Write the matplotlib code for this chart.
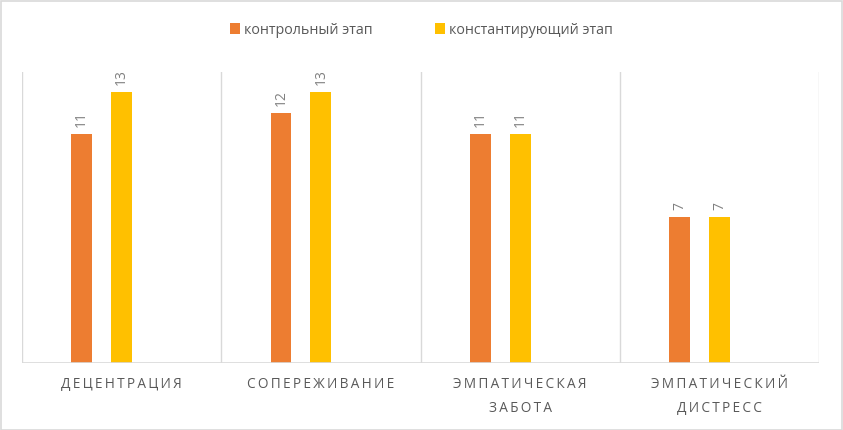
import matplotlib
matplotlib.use("Agg")
from matplotlib import pyplot as plt
import matplotlib.patches as mpatches
import numpy as np

# data
categories = ["ДЕЦЕНТРАЦИЯ", "СОПЕРЕЖИВАНИЕ", "ЭМПАТИЧЕСКАЯ\nЗАБОТА", "ЭМПАТИЧЕСКИЙ\nДИСТРЕСС"]
control = [11, 12, 11, 7]
constat = [13, 13, 11, 7]
series_names = ["контрольный этап", "константирующий этап"]

fam = ["Open Sans", "DejaVu Sans"]
plt.rcParams["font.family"] = fam


def spaced(s):
    # fake the letter spacing of the category labels
    return "\n".join("\u2009".join(list(line)) for line in s.split("\n"))


W, H = 843, 430
fig = plt.figure(figsize=(W / 100, H / 100), dpi=100)
ax = fig.add_axes([22 / W, (H - 363) / H, (819 - 22) / W, (363 - 72) / H])

x = np.arange(len(categories))
bw = 0.105
b1 = ax.bar(x - 0.2, control, bw, color="#ED7D31", label=series_names[0], zorder=3)
b2 = ax.bar(x, constat, bw, color="#FFC000", label=series_names[1], zorder=3)

for bars in (b1, b2):
    for r in bars:
        ax.annotate(str(int(r.get_height())), (r.get_x() + r.get_width() / 2, r.get_height()),
                    xytext=(0, 5), textcoords="offset points", rotation=90,
                    ha="center", va="bottom", fontsize=10, color="#808080")

ax.set_xlim(-0.5, len(categories) - 0.5)
ax.set_ylim(0, 291 / 20.85)
for xv in np.arange(-0.5, len(categories), 1.0):
    ax.axvline(xv, color="#d9d9d9", lw=1, zorder=1)
for s in ax.spines.values():
    s.set_visible(False)
ax.axhline(0, color="#d9d9d9", lw=1.2, zorder=4)
ax.set_yticks([])
ax.set_xticks(x)
ax.set_xticklabels([spaced(c) for c in categories], fontsize=9.8, color="#595959", linespacing=1.8)
ax.tick_params(axis="x", length=0, pad=10)

ax.legend(loc="center", bbox_to_anchor=(0.5, (H - 30) / H), bbox_transform=fig.transFigure,
          ncol=2, frameon=False, fontsize=10.3, labelcolor="#595959",
          handlelength=0.7, handleheight=0.7, handletextpad=0.3, columnspacing=4.3)

fig.patches.append(mpatches.Rectangle((0.5 / W, 0.5 / H), 1 - 1.5 / W, 1 - 1.5 / H,
                                      transform=fig.transFigure, fill=False,
                                      edgecolor="#d9d9d9", lw=1.2))

plt.savefig("out.png", dpi=100)
plt.close()
